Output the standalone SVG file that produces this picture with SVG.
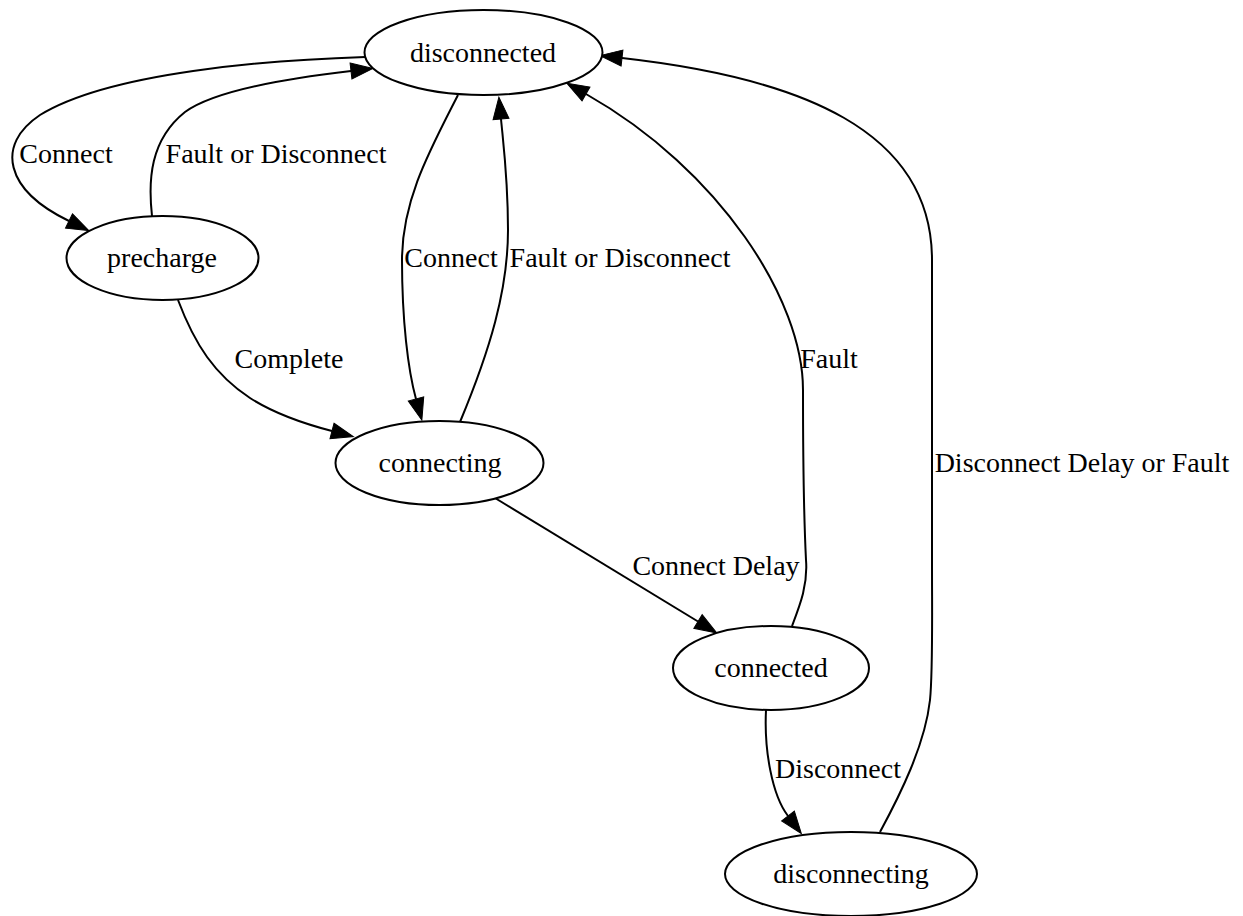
<svg xmlns="http://www.w3.org/2000/svg" width="1243" height="916" viewBox="0 0 1243 916">
<style>
.node ellipse{fill:#fff;stroke:#000;stroke-width:2}
text{font-family:"Liberation Serif","Times New Roman",serif;font-size:28px;fill:#000;text-anchor:middle}
.edge{fill:none;stroke:#000;stroke-width:2;marker-end:url(#arr)}
</style>
<defs>
<marker id="arr" markerUnits="userSpaceOnUse" markerWidth="24" markerHeight="18" refX="0" refY="8" orient="auto" overflow="visible">
<path d="M0,0 L22,8 L0,16 Z" fill="#000" stroke="#000" stroke-width="1"/>
</marker>
</defs>
<rect width="1243" height="916" fill="#fff"/>
<g id="connectors">
<path class="edge" d="M365,57 C270,60 110,72 40,115 C-5,145 5,190 69,221"/>
<path class="edge" d="M152,216 C148,180 150,140 185,112 C215,90 290,78 351,71"/>
<path class="edge" d="M458,95 C430,150 402,200 402,260 C402,320 408,370 416,399"/>
<path class="edge" d="M460,422 C490,350 508,290 508,230 C508,180 504,150 501,119"/>
<path class="edge" d="M178,300 C195,345 215,375 250,398 C275,414 305,424 332,431"/>
<path class="edge" d="M495,498 L698,621.5"/>
<path class="edge" d="M792,626 C800,605 808,585 806,560 C803,500 803,450 803,390 C803,300 720,170 586,94"/>
<path class="edge" d="M766,710 C764,750 772,795 788,816"/>
<path class="edge" d="M880,832 C900,795 925,745 930,700 C933,670 932,620 932,560 L932,260 C932,130 800,78 622,58"/>
<text x="66" y="163">Connect</text>
<text x="276" y="163">Fault or Disconnect</text>
<text x="451" y="267">Connect</text>
<text x="620" y="267">Fault or Disconnect</text>
<text x="289" y="368">Complete</text>
<text x="829" y="368">Fault</text>
<text x="1082" y="472">Disconnect Delay or Fault</text>
<text x="716" y="575">Connect Delay</text>
<text x="838" y="778">Disconnect</text>
</g>
<g id="disconnected" class="node"><ellipse cx="483.5" cy="52.5" rx="119" ry="42.5"/><text x="483" y="62">disconnected</text></g>
<g id="precharge" class="node"><ellipse cx="162.5" cy="258" rx="96" ry="42"/><text x="162" y="267">precharge</text></g>
<g id="connecting" class="node"><ellipse cx="439.5" cy="463" rx="104" ry="42"/><text x="440" y="472">connecting</text></g>
<g id="connected" class="node"><ellipse cx="771" cy="668" rx="98" ry="42"/><text x="771" y="677">connected</text></g>
<g id="disconnecting" class="node"><ellipse cx="851" cy="874" rx="126" ry="42"/><text x="851" y="883">disconnecting</text></g>
</svg>
